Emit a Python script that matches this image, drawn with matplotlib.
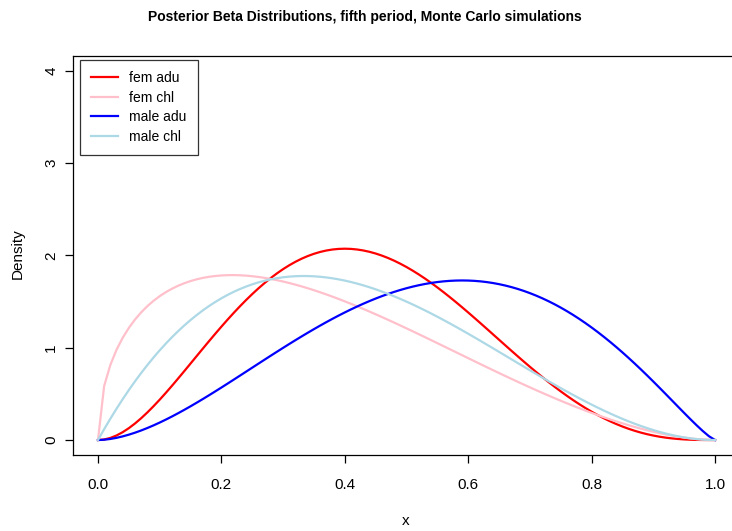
import numpy as np
import matplotlib
matplotlib.use("Agg")
import matplotlib.pyplot as plt
from math import lgamma

plt.rcParams['font.family'] = ['Liberation Sans', 'DejaVu Sans']

# Beta posterior parameters
series_names = ["fem adu", "fem chl", "male adu", "male chl"]
alpha_params = [3.0, 1.5, 2.8, 2.0]
beta_params = [4.0, 2.8, 2.25, 3.0]
series_colors = ["#FF0000", "#FFC0CB", "#0000FF", "#ADD8E6"]

x_ticks = [0.0, 0.2, 0.4, 0.6, 0.8, 1.0]
y_ticks = [0, 1, 2, 3, 4]

x = np.linspace(0, 1, 101)

def beta_pdf(xv, a, b):
    lb = lgamma(a) + lgamma(b) - lgamma(a + b)
    with np.errstate(divide='ignore', invalid='ignore'):
        y = np.exp((a - 1) * np.log(xv) + (b - 1) * np.log1p(-xv) - lb)
    y = np.nan_to_num(y, nan=0.0, posinf=0.0)
    return y

W, H = 732, 531
fig = plt.figure(figsize=(W / 100, H / 100), dpi=100)
left, right, top, bottom = 73.3, 739.7, 56.2, 454.8
ax = fig.add_axes([left / W, 1 - bottom / H, (right - left) / W, (bottom - top) / H])

for name, a, b, c in zip(series_names, alpha_params, beta_params, series_colors):
    ax.plot(x, beta_pdf(x, a, b), color=c, lw=1.6, label=name)

ax.set_xlim(-0.04, 1.04)
ax.set_ylim(-0.16, 4.16)
ax.set_xticks(x_ticks)
ax.set_xticklabels([f"{t:.1f}" for t in x_ticks])
ax.set_yticks(y_ticks)
ax.set_yticklabels([str(t) for t in y_ticks], rotation=90, va='center')
ax.tick_params(axis='both', labelsize=11, length=5.8, width=0.9)
ax.tick_params(axis='x', pad=11)
ax.tick_params(axis='y', pad=5)
for s in ax.spines.values():
    s.set_linewidth(0.9)

fig.text(365 / W, 1 - 17 / H, "Posterior Beta Distributions, fifth period, Monte Carlo simulations",
         ha='center', va='center', fontsize=10, fontweight='bold')
fig.text(406 / W, 1 - 521 / H, "x", ha='center', va='center', fontsize=11)
fig.text(17.5 / W, 1 - 254 / H, "Density", ha='center', va='center', rotation=90, fontsize=11)

leg = ax.legend(loc='upper left', bbox_to_anchor=((80 - left) / (right - left), 1 - (60 - top) / (bottom - top)),
                frameon=True, fancybox=False, edgecolor='black', fontsize=10,
                handlelength=1.9, borderpad=0.8, labelspacing=0.4, handletextpad=0.85, borderaxespad=0)
leg.get_frame().set_linewidth(0.9)

fig.savefig("out.png", dpi=100)
